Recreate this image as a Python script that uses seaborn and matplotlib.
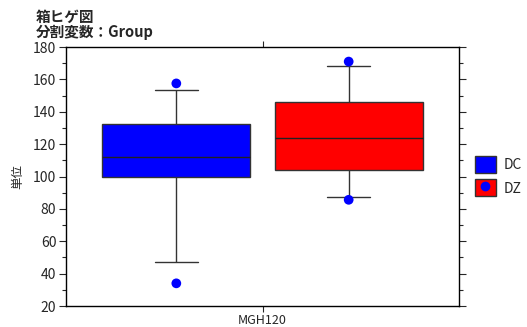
import matplotlib
matplotlib.use("Agg")
import matplotlib.pyplot as plt
from matplotlib.patches import Patch
from matplotlib.lines import Line2D
from matplotlib.legend_handler import HandlerTuple
from matplotlib.ticker import MultipleLocator
import pandas as pd
import seaborn as sns

# Summary values per group: lower whisker, Q1, median, Q3, upper whisker
groups = ["DC", "DZ"]
item = "MGH120"
dc_summary = [47.0, 100.0, 112.3, 132.5, 153.5]
dz_summary = [87.5, 104.3, 123.8, 146.0, 168.3]
# Extreme observations shown as dots
dc_points = [34.0, 157.5]
dz_points = [85.6, 171.0]
box_colors = ["#0000FF", "#FF0000"]
point_color = "#0000FF"

sns.set_style("white")
plt.rcParams["font.family"] = ["Noto Sans CJK JP", "DejaVu Sans"]

box_df = pd.DataFrame({
    "item": [item] * (len(dc_summary) + len(dz_summary)),
    "group": ["DC"] * len(dc_summary) + ["DZ"] * len(dz_summary),
    "value": dc_summary + dz_summary,
})
pt_df = pd.DataFrame({
    "item": [item] * (len(dc_points) + len(dz_points)),
    "group": ["DC"] * len(dc_points) + ["DZ"] * len(dz_points),
    "value": dc_points + dz_points,
})

fig = plt.figure(figsize=(5.27, 3.27), dpi=100)
ax = fig.add_axes([66 / 527, 1 - 306 / 327, (459 - 66) / 527, (306 - 47) / 327])

sns.boxplot(data=box_df, x="item", y="value", hue="group", hue_order=groups,
            palette=box_colors, whis=(0, 100), width=0.8, gap=0.14,
            linecolor="#333333", linewidth=1.0, showfliers=False,
            saturation=1, legend=False, ax=ax,
            capwidths=0.1, medianprops={"color": "#222222", "linewidth": 1.0})
sns.stripplot(data=pt_df, x="item", y="value", hue="group", hue_order=groups,
              palette=[point_color, point_color], dodge=True, jitter=False,
              size=7, linewidth=0, legend=False, ax=ax)

ax.set_xlim(-0.456, 0.456)
ax.set_ylim(20, 180)
ax.yaxis.set_major_locator(MultipleLocator(20))
ax.yaxis.set_minor_locator(MultipleLocator(10))
ax.tick_params(axis="y", which="major", direction="out", length=5, width=0.8,
               left=True, right=True, labelsize=10, pad=2)
ax.tick_params(axis="y", which="minor", direction="out", length=3, width=0.8,
               left=True, right=True)
ax.tick_params(axis="x", which="major", direction="out", length=4, width=0.8,
               bottom=True, top=True, labelsize=9, pad=2)
for s in ax.spines.values():
    s.set_visible(True)
    s.set_color("black")
    s.set_linewidth(1.0)

ax.set_xlabel("")
ax.set_ylabel("単位", fontsize=9, labelpad=6)

fig.text(36 / 527, 1 - 9 / 327, "箱ヒゲ図\n分割変数：Group", ha="left", va="top",
         fontsize=10.5, fontweight="bold", linespacing=0.95)

handles = [
    Patch(facecolor=box_colors[0], edgecolor="#333333", linewidth=1.0),
    (Patch(facecolor=box_colors[1], edgecolor="#333333", linewidth=1.0),
     Line2D([], [], marker="o", color=point_color, linestyle="none", markersize=6)),
]
fig.legend(handles, groups, loc="center left", bbox_to_anchor=(475 / 527, 1 - 176 / 327),
           frameon=False, handlelength=1.5, handleheight=1.5, handletextpad=0.55,
           labelspacing=0.5, fontsize=10, borderpad=0, borderaxespad=0,
           handler_map={tuple: HandlerTuple(ndivide=1)})

fig.savefig("out.png", dpi=100)
